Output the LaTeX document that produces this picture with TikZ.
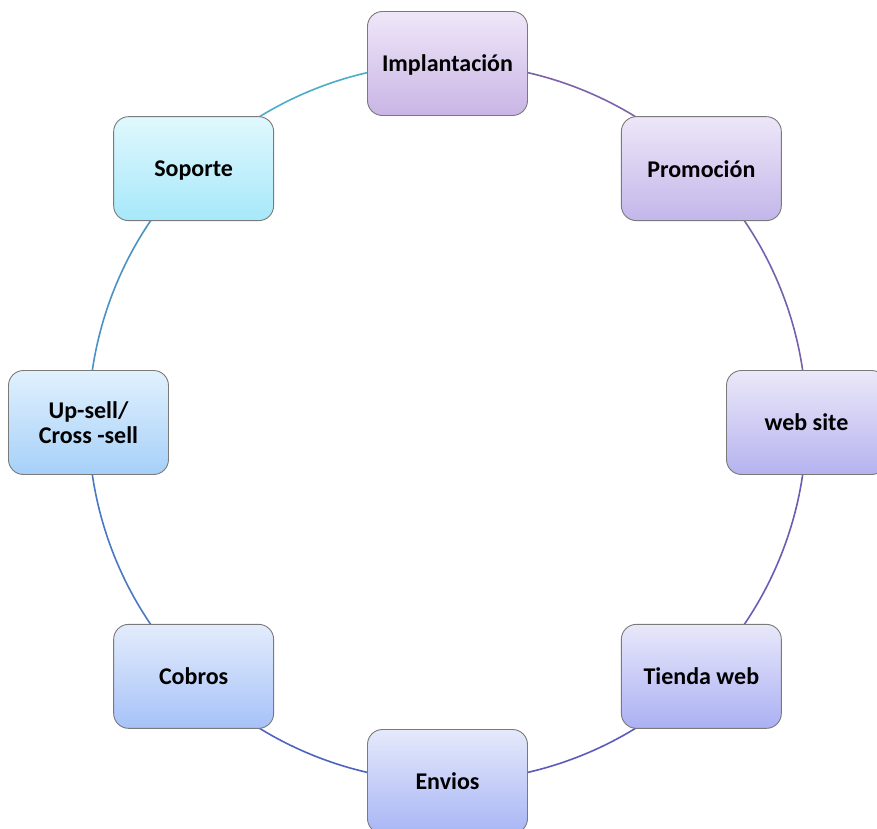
\documentclass[tikz,border=0pt]{standalone}
\usepackage{fontspec}
\setmainfont{Carlito}
\usetikzlibrary{backgrounds}
\definecolor{rimgray}{HTML}{7A7A7A}
\tikzset{
  stage/.style={draw=rimgray, line width=0.9pt, rounded corners=15pt,
    minimum width=160pt, minimum height=104pt, align=center, text depth=0pt,
    font=\fontsize{24}{25}\selectfont\bfseries},
  ring/.style={line width=1.6pt, bend left=22.5, looseness=0.885}
}
\begin{document}
\begin{tikzpicture}[x=1pt,y=1pt]
\useasboundingbox (-447.5,-405.5) rectangle (429.5,422.5);
\clip (-447.5,-405.5) rectangle (429.5,422.5);
\node[stage, top color={rgb,255:red,239;green,231;blue,248}, bottom color={rgb,255:red,201;green,181;blue,229}] (impl) at (90:359) {Implantación};
\node[stage, top color={rgb,255:red,237;green,231;blue,248}, bottom color={rgb,255:red,195;green,182;blue,234}] (promo) at (45:359) {Promoción};
\node[stage, top color={rgb,255:red,235;green,232;blue,249}, bottom color={rgb,255:red,182;green,178;blue,239}] (web) at (0:359) {web site};
\node[stage, top color={rgb,255:red,232;green,232;blue,250}, bottom color={rgb,255:red,171;green,176;blue,243}] (tienda) at (-45:359) {Tienda web};
\node[stage, top color={rgb,255:red,229;green,233;blue,251}, bottom color={rgb,255:red,168;green,182;blue,245}] (envios) at (-90:359) {Envios};
\node[stage, top color={rgb,255:red,227;green,236;blue,252}, bottom color={rgb,255:red,166;green,194;blue,248}] (cobros) at (-135:359) {Cobros};
\node[stage, top color={rgb,255:red,225;green,241;blue,253}, bottom color={rgb,255:red,166;green,208;blue,249}] (upsell) at (180:359) {Up-sell/\\Cross -sell};
\node[stage, top color={rgb,255:red,224;green,248;blue,253}, bottom color={rgb,255:red,166;green,232;blue,250}] (soporte) at (135:359) {Soporte};
% ring behind the boxes
\begin{scope}[on background layer]
\draw[ring, color={rgb,255:red,126;green,98;blue,168}] (impl.center) to (promo.center);
\draw[ring, color={rgb,255:red,117;green,96;blue,174}] (promo.center) to (web.center);
\draw[ring, color={rgb,255:red,106;green,92;blue,180}] (web.center) to (tienda.center);
\draw[ring, color={rgb,255:red,91;green,92;blue,186}] (tienda.center) to (envios.center);
\draw[ring, color={rgb,255:red,78;green,98;blue,190}] (envios.center) to (cobros.center);
\draw[ring, color={rgb,255:red,74;green,120;blue,196}] (cobros.center) to (upsell.center);
\draw[ring, color={rgb,255:red,74;green,146;blue,198}] (upsell.center) to (soporte.center);
\draw[ring, color={rgb,255:red,74;green,173;blue,200}] (soporte.center) to (impl.center);
\end{scope}
\end{tikzpicture}
\end{document}
